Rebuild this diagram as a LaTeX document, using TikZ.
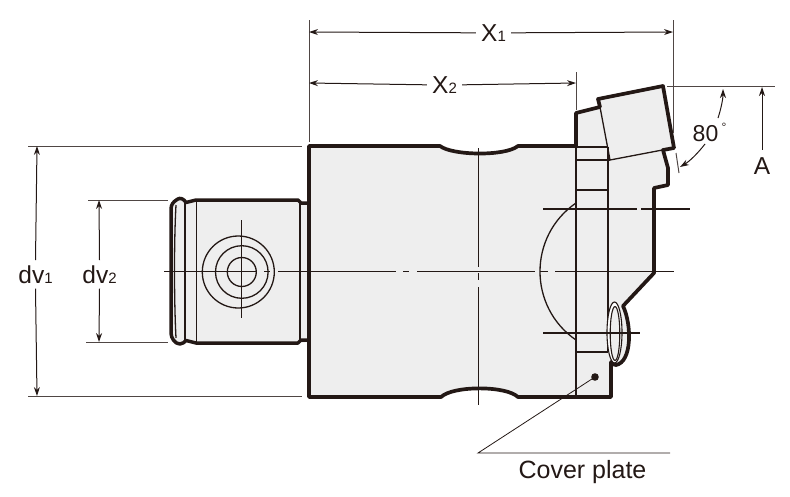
\documentclass[tikz,border=0pt]{standalone}
\usepackage{fontspec}
\setmainfont{Liberation Sans}
\usetikzlibrary{arrows.meta}
\definecolor{ink}{HTML}{231815}
\definecolor{body}{HTML}{EEEEEE}
\tikzset{
  outline/.style={draw=ink,line width=3.7pt,line join=round,fill=body},
  thick edge/.style={draw=ink,line width=3.5pt,line join=round},
  thin line/.style={draw=ink,line width=1.3pt},
  centre line/.style={draw=ink,line width=1.3pt},
  ext line/.style={draw=ink!80,line width=1pt},
  dim one/.style={draw=ink,line width=1pt,-{Stealth[length=9pt,width=6pt]}},
  label/.style={text=ink,anchor=base,inner xsep=5pt,inner ysep=5pt,font=\fontsize{24.5}{24.5}\selectfont},
}
\newcommand{\lowfig}[1]{\raisebox{-0.5pt}{\fontsize{15}{15}\selectfont #1}}
\begin{document}
\begin{tikzpicture}[x=1pt,y=-1pt]
\useasboundingbox (0,0) rectangle (790,496);
% named points of the dimensions
\coordinate (x1a) at (309,32); \coordinate (x1b) at (673,32);
\coordinate (x2a) at (309,83); \coordinate (x2b) at (576,83);
\coordinate (d1a) at (37,146); \coordinate (d1b) at (37,396);
\coordinate (d2a) at (99,200); \coordinate (d2b) at (99,342);
\coordinate (atop) at (762,87);
% shank
\path[fill=body] (171,208) -- (180,198.5) -- (185,203) -- (196,200) -- (300,200) -- (309,203) -- (309,342) -- (300,343) -- (196,343) -- (185,341) -- (180,345) -- (171,333) -- cycle;
\draw[thin line] (176,205) .. controls (174,240) and (174,300) .. (176,338);
\draw[thin line] (185,203) -- (185,341);
\draw[thin line] (196.5,200) -- (196.5,343);
\draw[thin line] (300,202) -- (300,342);
\draw[thick edge] (309,203) -- (301,203) -- (298,200) -- (196,200) -- (186,202.5) .. controls (184,199) and (180,197) .. (177,199.5) .. controls (173,202) and (171,205) .. (171,209) -- (171,333) .. controls (171,338) and (175,344) .. (180,344) .. controls (183,344) and (184,342) .. (186,340.5) -- (196,343) -- (298,343) -- (301,340) -- (309,340);
% body
\path[outline] (309,146) -- (440,146) .. controls (452,155.5) and (505,156.5) .. (518,146) -- (576,146) -- (576,113) -- (600,107) -- (598,99) -- (663,86) -- (674,148) -- (663,150) -- (668,168) -- (668,185) -- (654,188) -- (654,273) -- (623,306) .. controls (632,325) and (632,362) .. (616,365) .. controls (614,365) and (612,364) .. (611,362) -- (611,397) -- (518,397) .. controls (506,385.5) and (453,385.5) .. (441,397) -- (309,397) -- cycle;
% inner lines of the body
\draw[thin line] (309,203) -- (309,340);
\draw[thin line] (576,147) -- (576,396);
\draw[thin line] (608,147) -- (608,352);
\draw[thin line] (600,107) -- (610,160) -- (673,148);
\draw[thin line] (576,147) -- (608,147);
\draw[thin line] (576,160) -- (610,160);
\draw[thin line] (576,190) -- (608,190);
\draw[thin line] (576,352) -- (608,352);
\draw[thin line] (576,203) .. controls (528,236) and (528,307) .. (576,340);
% ellipse of the port
\draw[draw=ink,line width=1.1pt,fill=white] (614.5,332.5) ellipse[x radius=7.5pt,y radius=30.5pt];
\draw[draw=ink,line width=1.1pt,fill=body] (615,333.5) ellipse[x radius=4.8pt,y radius=27pt];
% centre lines
\draw[centre line] (164,271.5) -- (257,271.5);
\draw[centre line] (264,271.5) -- (270,271.5);
\draw[centre line] (278,271.5) -- (396,271.5);
\draw[centre line] (403,271.5) -- (409,271.5);
\draw[centre line] (417,271.5) -- (535,271.5);
\draw[centre line] (540,271.5) -- (548,271.5);
\draw[centre line] (555,271.5) -- (674,271.5);
\draw[centre line] (478.5,148) -- (478.5,267);
\draw[centre line] (478.5,273) -- (478.5,280);
\draw[centre line] (478.5,287) -- (478.5,405);
\draw[centre line] (241.7,220) -- (241.7,318);
\draw[centre line] (543,209) -- (637,209);
\draw[centre line] (641,209) -- (690,209);
\draw[centre line] (543,333) -- (640,333);
% concentric circles
\draw[thin line] (238.3,272) circle[radius=36pt];
\draw[thin line] (241.8,272) circle[radius=26.3pt];
\draw[thin line] (241.8,272) circle[radius=14.5pt];
% extension lines
\draw[ext line] (x1a |- 0,20) -- (309,142);
\draw[ext line] (x1b |- 0,20) -- (673,133);
\draw[ext line] (x2b |- 0,72) -- (576,110);
\draw[ext line] (28,146) -- (302,146);
\draw[ext line] (28,396) -- (302,396);
\draw[ext line] (88,200) -- (168,200);
\draw[ext line] (86,342) -- (168,342);
\draw[ext line] (667,86) -- (775,86);
\draw[ext line] (676,153) -- (679,173);
% labels
\node[label] (x1) at (493.5,41) {X\lowfig{1}};
\node[label] (x2) at (444.5,93) {X\lowfig{2}};
\node[label] (dv1) at (35.5,283) {dv\lowfig{1}};
\node[label] (dv2) at (99.5,283) {dv\lowfig{2}};
\node[label,inner ysep=7pt] (a) at (762,174) {A};
\node[label,font=\fontsize{23}{23}\selectfont,inner sep=0pt] (angle) at (705.5,141) {80};
\node[label,font=\fontsize{12}{12}\selectfont,inner sep=0pt] (deg) at (724,131) {°};
\node[label,font=\fontsize{25}{25}\selectfont] (cover) at (582.5,478) {Cover plate};
% dimension lines
\draw[dim one] (x1.west) -- (x1a);
\draw[dim one] (x1.east) -- (x1b);
\draw[dim one] (x2.west) -- (x2a);
\draw[dim one] (x2.east) -- (x2b);
\draw[dim one] (dv1.north) -- (d1a);
\draw[dim one] (dv1.south) -- (d1b);
\draw[dim one] (dv2.north) -- (d2a);
\draw[dim one] (dv2.south) -- (d2b);
\draw[dim one] (a.north) -- (atop);
\coordinate (up0) at (718,118); \coordinate (up1) at (723,89);
\coordinate (lo0) at (705,144); \coordinate (lo1) at (680,167);
\draw[dim one] (up0) .. controls (721,109) and (723,99) .. (up1);
\draw[dim one] (lo0) .. controls (698,153) and (690,161) .. (lo1);
% leader of the cover plate
\fill[ink] (595,377) circle[radius=3.8pt];
\coordinate (dot) at (595,377);
\coordinate (lead) at (478,453);
\coordinate (leadend) at (670,453);
\draw[draw=ink,line width=0.8pt] (dot) -- (lead) -- (leadend);
\end{tikzpicture}
\end{document}
